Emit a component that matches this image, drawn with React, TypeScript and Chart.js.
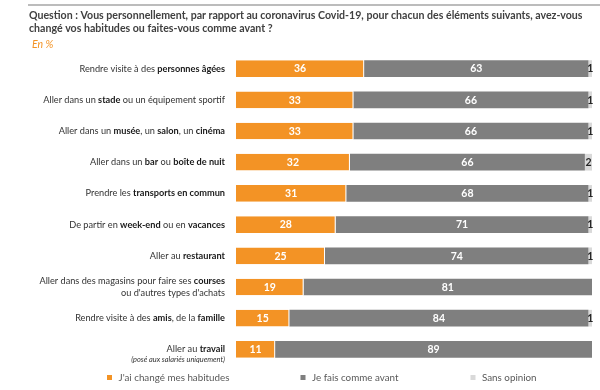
import React, { useEffect, useRef } from "react";
import { Chart, registerables } from "chart.js";

Chart.register(...registerables);

const titleLines = [
  "Question : Vous personnellement, par rapport au coronavirus Covid-19, pour chacun des éléments suivants, avez-vous",
  "changé vos habitudes ou faites-vous comme avant ?",
];
const unitLabel = "En %";

// ** marks the bold parts, \n a line break
const categories = [
  "Rendre visite à des **personnes âgées**",
  "Aller dans un **stade** ou un équipement sportif",
  "Aller dans un **musée**, un **salon**, un **cinéma**",
  "Aller dans un **bar** ou **boîte de nuit**",
  "Prendre les **transports en commun**",
  "De partir en **week-end** ou en **vacances**",
  "Aller au **restaurant**",
  "Aller dans des magasins pour faire ses **courses**\nou d'autres types d'achats",
  "Rendre visite à des **amis**, de la **famille**",
  "Aller au **travail**",
];
const categoryNotes = ["", "", "", "", "", "", "", "", "", "(posé aux salariés uniquement)"];

const changedHabits = [36, 33, 33, 32, 31, 28, 25, 19, 15, 11];
const sameAsBefore = [63, 66, 66, 66, 68, 71, 74, 81, 84, 89];
const noOpinion = [1, 1, 1, 2, 1, 1, 1, 0, 1, 0];

const seriesNames = ["J'ai changé mes habitudes", "Je fais comme avant", "Sans opinion"];
const seriesColors = ["#F39325", "#7F7F7F", "#D9D9D9"];

const FONT = "Lato, 'Open Sans', sans-serif";
const LABEL_SIZE = 9.2;

function segmentsOf(line: string) {
  const parts = line.split("**");
  return parts.map((t, i) => ({ text: t, bold: i % 2 === 1 })).filter((s) => s.text.length > 0);
}

const decorPlugin = {
  id: "decor",
  afterDraw(chart: any) {
    const ctx: CanvasRenderingContext2D = chart.ctx;
    const yScale = chart.scales.y;
    const area = chart.chartArea;
    ctx.save();

    // top rule
    ctx.strokeStyle = "#A6A6A6";
    ctx.lineWidth = 1.6;
    ctx.beginPath();
    ctx.moveTo(28, 5);
    ctx.lineTo(600, 5);
    ctx.stroke();

    // title
    ctx.textBaseline = "middle";
    ctx.textAlign = "left";
    ctx.fillStyle = "#404040";
    ctx.font = `bold 10.6px ${FONT}`;
    titleLines.forEach((l, i) => ctx.fillText(l, 29, 15.5 + i * 13));
    ctx.fillStyle = "#F39325";
    ctx.font = `italic 10.5px ${FONT}`;
    ctx.fillText(unitLabel, 32, 45);

    // category labels (rich text)
    const rightX = area.left - 11;
    categories.forEach((cat, idx) => {
      const yc = yScale.getPixelForValue(idx);
      const lines = cat.split("\n");
      const lh = 11.7;
      const note = categoryNotes[idx];
      lines.forEach((line, li) => {
        const y = note ? yc : yc + (li - (lines.length - 1) / 2) * lh;
        const segs = segmentsOf(line);
        let w = 0;
        segs.forEach((s) => {
          ctx.font = `${s.bold ? "bold " : ""}${LABEL_SIZE}px ${FONT}`;
          w += ctx.measureText(s.text).width;
        });
        let x = rightX - w;
        ctx.textAlign = "left";
        segs.forEach((s) => {
          ctx.font = `${s.bold ? "bold " : ""}${LABEL_SIZE}px ${FONT}`;
          ctx.fillStyle = s.bold ? "#1A1A1A" : "#333333";
          ctx.fillText(s.text, x, y);
          x += ctx.measureText(s.text).width;
        });
      });
      if (note) {
        ctx.font = `italic 7.4px ${FONT}`;
        ctx.fillStyle = "#333333";
        ctx.textAlign = "right";
        ctx.fillText(note, rightX, yc + 10.2);
      }
    });

    // legend
    const legendX = [107, 300.5, 470.5];
    const ly = 377.5;
    seriesNames.forEach((name, i) => {
      ctx.fillStyle = seriesColors[i];
      ctx.fillRect(legendX[i], ly - 2.5, 5, 5);
      ctx.fillStyle = "#595959";
      ctx.font = `9.8px ${FONT}`;
      ctx.textAlign = "left";
      ctx.fillText(name, legendX[i] + 11.5, ly);
    });

    ctx.restore();
  },
  afterDatasetsDraw(chart: any) {
    const ctx: CanvasRenderingContext2D = chart.ctx;
    ctx.save();
    ctx.textAlign = "center";
    ctx.textBaseline = "middle";
    chart.data.datasets.forEach((ds: any, di: number) => {
      const meta = chart.getDatasetMeta(di);
      meta.data.forEach((el: any, i: number) => {
        const v = ds.data[i];
        if (!v) return;
        const x = (el.x + el.base) / 2;
        ctx.font = `bold 10.5px ${FONT}`;
        ctx.fillStyle = di === 2 ? "#262626" : "#FFFFFF";
        ctx.fillText(String(v), x, el.y + 0.5);
      });
    });
    ctx.restore();
  },
};

export default function App() {
  const canvasRef = useRef<HTMLCanvasElement | null>(null);

  useEffect(() => {
    document.body.style.margin = "0";
    const canvas = canvasRef.current;
    if (!canvas) return;
    const plainLabels = categories.map((c) => c.replace(/\*\*/g, "").split("\n"));
    const chart = new Chart(canvas, {
      type: "bar",
      data: {
        labels: plainLabels,
        datasets: [changedHabits, sameAsBefore, noOpinion].map((d, i) => ({
          label: seriesNames[i],
          data: d,
          backgroundColor: seriesColors[i],
          borderColor: "#FFFFFF",
          borderWidth: i === 0 ? { right: 1 } : 0,
          borderSkipped: false,
          barPercentage: 0.535,
          categoryPercentage: 1,
        })),
      },
      options: {
        indexAxis: "y",
        responsive: false,
        animation: false,
        layout: { padding: { left: 236, right: 8, top: 53, bottom: 25 } },
        scales: {
          x: { stacked: true, min: 0, max: 100, display: false },
          y: { stacked: true, display: false },
        },
        plugins: {
          legend: { display: false },
          title: { display: false },
          tooltip: { enabled: false },
        },
      },
      plugins: [decorPlugin],
    } as any);
    return () => chart.destroy();
  }, []);

  return (
    <div style={{ position: "absolute", left: 0, top: 0, width: 600, height: 390, background: "#fff" }}>
      <canvas ref={canvasRef} width={600} height={390} />
    </div>
  );
}
